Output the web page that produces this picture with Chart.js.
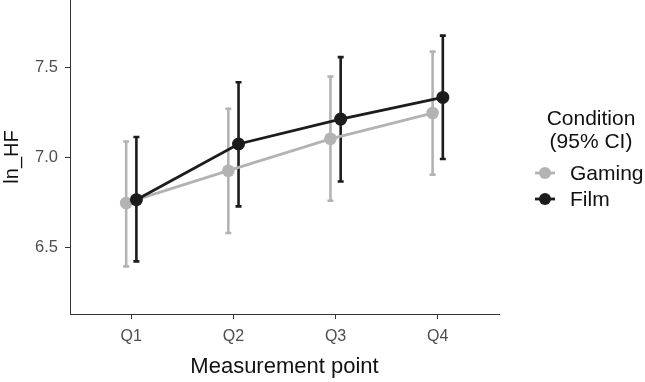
<!DOCTYPE html>
<html>
<head>
<meta charset="utf-8">
<script src="https://cdn.jsdelivr.net/npm/chart.js@4/dist/chart.umd.min.js"></script>
<style>
    html, body { margin: 0; padding: 0; background: #fff; }
</style>
</head>
<body>
<canvas id="chart" width="645" height="382"></canvas>
<script>
// measurement points
const categories = ['Q1', 'Q2', 'Q3', 'Q4'];

// ln_HF means and 95% CI
const gamingMean = [6.746, 6.926, 7.104, 7.248];
const gamingLow = [6.392, 6.578, 6.758, 6.904];
const gamingHigh = [7.089, 7.272, 7.452, 7.591];

const filmMean = [6.764, 7.075, 7.214, 7.335];
const filmLow = [6.420, 6.727, 6.866, 6.991];
const filmHigh = [7.114, 7.420, 7.560, 7.680];

const yTicks = [6.5, 7.0, 7.5];

const gamingColor = '#b3b3b3';
const filmColor = '#1c1c1c';
const dodge = 0.05; // position_dodge like ggplot
const fontFamily = '"Liberation Sans", Arial, Helvetica, sans-serif';

function toPoints(means, shift) {
    return means.map((v, i) => ({x: i + 1 + shift, y: v}));
}

// vertical error bars with small caps, drawn under the lines
const errorBars = {
    id: 'errorBars',
    beforeDatasetsDraw(chart) {
        const ctx = chart.ctx;
        const xs = chart.scales.x;
        const ys = chart.scales.y;
        chart.data.datasets.forEach((ds) => {
            ctx.save();
            ctx.strokeStyle = ds.borderColor;
            ctx.lineWidth = 2.6;
            ds.data.forEach((p, i) => {
                const x = xs.getPixelForValue(p.x);
                const top = ys.getPixelForValue(ds.high[i]);
                const bottom = ys.getPixelForValue(ds.low[i]);
                ctx.beginPath();
                ctx.moveTo(x, top);
                ctx.lineTo(x, bottom);
                ctx.moveTo(x - 3, top);
                ctx.lineTo(x + 3, top);
                ctx.moveTo(x - 3, bottom);
                ctx.lineTo(x + 3, bottom);
                ctx.stroke();
            });
            ctx.restore();
        });
    }
};

// legend on the right, like the ggplot guide
const sideLegend = {
    id: 'sideLegend',
    afterDraw(chart) {
        const ctx = chart.ctx;
        const cx = 591;
        ctx.save();
        ctx.fillStyle = '#111';
        ctx.font = '21px ' + fontFamily;
        ctx.textAlign = 'center';
        ctx.textBaseline = 'middle';
        ctx.fillText('Condition', cx, 119);
        ctx.fillText('(95% CI)', cx, 142);

        ctx.textAlign = 'left';
        chart.data.datasets.forEach((ds, i) => {
            const y = 173 + i * 26;
            ctx.strokeStyle = ds.borderColor;
            ctx.lineWidth = 2.8;
            ctx.beginPath();
            ctx.moveTo(535, y);
            ctx.lineTo(555, y);
            ctx.stroke();
            ctx.fillStyle = ds.borderColor;
            ctx.beginPath();
            ctx.arc(545, y, 6, 0, Math.PI * 2);
            ctx.fill();
            ctx.fillStyle = '#111';
            ctx.fillText(ds.label, 570, y + 1);
        });
        ctx.restore();
    }
};

const ctx = document.getElementById('chart').getContext('2d');

new Chart(ctx, {
    type: 'line',
    data: {
        datasets: [
            {
                label: 'Gaming',
                data: toPoints(gamingMean, -dodge),
                low: gamingLow,
                high: gamingHigh,
                borderColor: gamingColor,
                backgroundColor: gamingColor,
                borderWidth: 2.8,
                pointRadius: 6.3,
                pointBorderWidth: 0,
                order: 1
            },
            {
                label: 'Film',
                data: toPoints(filmMean, dodge),
                low: filmLow,
                high: filmHigh,
                borderColor: filmColor,
                backgroundColor: filmColor,
                borderWidth: 2.8,
                pointRadius: 6.5,
                pointBorderWidth: 0,
                order: 0
            }
        ]
    },
    options: {
        responsive: false,
        animation: false,
        devicePixelRatio: 1,
        layout: {
            padding: {left: 0, top: 0, right: 146, bottom: 0},
            autoPadding: false
        },
        plugins: {
            legend: {display: false},
            tooltip: {enabled: false}
        },
        scales: {
            x: {
                type: 'linear',
                min: 0.4,
                max: 4.6,
                afterBuildTicks: (scale) => {
                    scale.ticks = categories.map((c, i) => ({value: i + 1}));
                },
                afterFit: (scale) => {
                    scale.height = 68;
                    scale.paddingLeft = 0;
                    scale.paddingRight = 0;
                },
                grid: {drawOnChartArea: false, drawTicks: true, tickLength: 5, color: '#333', lineWidth: 1},
                border: {display: true, color: '#333', width: 1},
                ticks: {
                    callback: (v) => categories[v - 1],
                    autoSkip: false,
                    maxRotation: 0,
                    padding: 8,
                    color: '#4d4d4d',
                    font: {family: fontFamily, size: 16}
                },
                title: {
                    display: true,
                    text: 'Measurement point',
                    color: '#111',
                    padding: {top: 0, bottom: 2},
                    font: {family: fontFamily, size: 22}
                }
            },
            y: {
                type: 'linear',
                min: 6.126,
                max: 7.879,
                afterBuildTicks: (scale) => {
                    scale.ticks = yTicks.map((v) => ({value: v}));
                },
                afterFit: (scale) => {
                    scale.width = 70;
                    scale.paddingTop = 0;
                    scale.paddingBottom = 0;
                },
                grid: {drawOnChartArea: false, drawTicks: true, tickLength: 5, color: '#333', lineWidth: 1},
                border: {display: true, color: '#333', width: 1},
                ticks: {
                    callback: (v) => v.toFixed(1),
                    padding: 7,
                    color: '#4d4d4d',
                    font: {family: fontFamily, size: 16.5}
                },
                title: {
                    display: true,
                    text: 'ln_HF',
                    color: '#111',
                    padding: {top: 0, bottom: 0},
                    font: {family: fontFamily, size: 20}
                }
            }
        }
    },
    plugins: [errorBars, sideLegend]
});
</script>
</body>
</html>
